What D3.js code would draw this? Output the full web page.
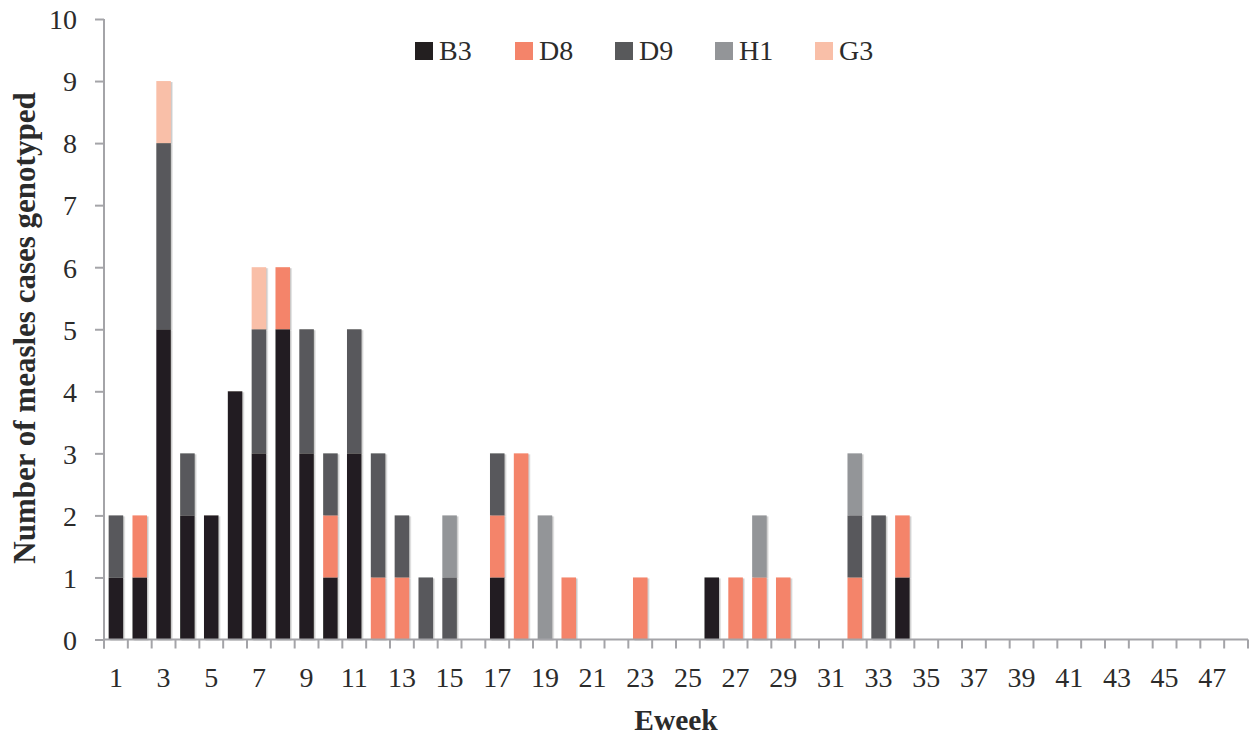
<!DOCTYPE html>
<html>
<head>
<meta charset="utf-8">
<script src="https://cdn.jsdelivr.net/npm/d3@7/dist/d3.min.js"></script>
<style>
  html, body { margin: 0; padding: 0; background: #fff; }
  svg { display: block; }
  text { font-family: "Liberation Serif", "Times New Roman", serif; fill: #2b2b2b; }
</style>
</head>
<body>
<svg id="chart" width="1253" height="737"></svg>
<script>
// Epidemiological weeks 1..48
const weeks = d3.range(1, 49);
const genotypes = ["B3", "D8", "D9", "H1", "G3"];
const colors = ["#231f20", "#f4846a", "#58595b", "#939598", "#f9bfa8"];

// Cases genotyped per week, one array per genotype (index 0 = week 1)
const B3 = [1,1,5,2,2,4,3,5,3,1,3,0,0,0,0,0,1,0,0,0,0,0,0,0,0,1,0,0,0,0,0,0,0,1,0,0,0,0,0,0,0,0,0,0,0,0,0,0];
const D8 = [0,1,0,0,0,0,0,1,0,1,0,1,1,0,0,0,1,3,0,1,0,0,1,0,0,0,1,1,1,0,0,1,0,1,0,0,0,0,0,0,0,0,0,0,0,0,0,0];
const D9 = [1,0,3,1,0,0,2,0,2,1,2,2,1,1,1,0,1,0,0,0,0,0,0,0,0,0,0,0,0,0,0,1,2,0,0,0,0,0,0,0,0,0,0,0,0,0,0,0];
const H1 = [0,0,0,0,0,0,0,0,0,0,0,0,0,0,1,0,0,0,2,0,0,0,0,0,0,0,0,1,0,0,0,1,0,0,0,0,0,0,0,0,0,0,0,0,0,0,0,0];
const G3 = [0,0,1,0,0,0,1,0,0,0,0,0,0,0,0,0,0,0,0,0,0,0,0,0,0,0,0,0,0,0,0,0,0,0,0,0,0,0,0,0,0,0,0,0,0,0,0,0];

const yTicks = d3.range(0, 11);
const xTickLabels = weeks.filter(w => w % 2 === 1);

const series = { B3, D8, D9, H1, G3 };
const table = weeks.map((w, i) => {
  const row = { week: w };
  genotypes.forEach(g => row[g] = series[g][i]);
  return row;
});

const svg = d3.select("#chart");
const margin = { left: 104, right: 5, top: 19, bottom: 97 };
const W = 1253, H = 737;

const x = d3.scaleBand().domain(weeks).range([margin.left, W - margin.right]).paddingInner(0.39).paddingOuter(0.195);
const xTicksScale = d3.scaleBand().domain(weeks).range([margin.left, W - margin.right]);
const y = d3.scaleLinear().domain([0, 10]).range([H - margin.bottom - 0.5, margin.top]);

const color = d3.scaleOrdinal().domain(genotypes).range(colors);
const stacked = d3.stack().keys(genotypes)(table);

// soft shadow behind bars
const defs = svg.append("defs");
const f = defs.append("filter").attr("id", "shadow").attr("x", "-20%").attr("y", "-5%").attr("width", "150%").attr("height", "115%");
f.append("feDropShadow").attr("dx", 1.5).attr("dy", 1).attr("stdDeviation", 0.6)
  .attr("flood-color", "#888").attr("flood-opacity", 0.45);

const axisColor = "#a4a4a8";

// bars
const barG = svg.append("g").attr("filter", "url(#shadow)");
stacked.forEach(layer => {
  barG.append("g").attr("fill", color(layer.key))
    .selectAll("rect")
    .data(layer.filter(d => d[1] - d[0] > 0))
    .join("rect")
    .attr("x", d => x(d.data.week))
    .attr("width", x.bandwidth())
    .attr("y", d => y(d[1]))
    .attr("height", d => y(d[0]) - y(d[1]));
});

// y axis
const yAxis = svg.append("g").attr("transform", `translate(${margin.left},0)`)
  .call(d3.axisLeft(y).tickValues(yTicks).tickSize(9).tickPadding(18).tickFormat(d3.format("d")));
yAxis.select(".domain").attr("stroke", axisColor).attr("stroke-width", 2)
  .attr("d", `M0,${y(10)}V${y(0) + 9}`);
yAxis.selectAll(".tick line").attr("stroke", axisColor).attr("stroke-width", 2);
yAxis.selectAll(".tick text").attr("font-size", 28).attr("fill", "#2b2b2b")
  .attr("font-family", "Liberation Serif, serif").attr("dy", "0.35em");

// x axis: ticks at category boundaries, labels under odd weeks
const xg = svg.append("g").attr("transform", `translate(0,${y(0)})`);
xg.append("line").attr("x1", margin.left).attr("x2", W - margin.right)
  .attr("stroke", axisColor).attr("stroke-width", 2);
const bounds = weeks.map(w => xTicksScale(w)).concat([W - margin.right]);
xg.selectAll("line.tk").data(bounds).join("line").attr("class", "tk")
  .attr("x1", d => d).attr("x2", d => d).attr("y1", 0).attr("y2", 9)
  .attr("stroke", axisColor).attr("stroke-width", 2);
xg.selectAll("text").data(xTickLabels).join("text")
  .attr("x", d => xTicksScale(d) + xTicksScale.bandwidth() / 2)
  .attr("y", 47)
  .attr("text-anchor", "middle")
  .attr("font-size", 28)
  .text(d => d);

// axis titles
svg.append("text").attr("x", 676).attr("y", 730).attr("text-anchor", "middle")
  .attr("font-size", 29.5).attr("font-weight", "bold").text("Eweek");
svg.append("text").attr("transform", `translate(35,328) rotate(-90)`).attr("text-anchor", "middle")
  .attr("font-size", 31).attr("font-weight", "bold").text("Number of measles cases genotyped");

// legend
const legend = svg.append("g");
genotypes.forEach((g, i) => {
  const lx = 415 + i * 100;
  legend.append("rect").attr("x", lx).attr("y", 42).attr("width", 18).attr("height", 18).attr("fill", color(g));
  legend.append("text").attr("x", lx + 24).attr("y", 60).attr("font-size", 28).text(g);
});
</script>
</body>
</html>
